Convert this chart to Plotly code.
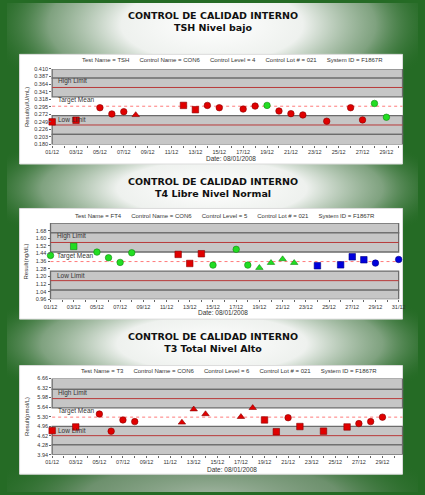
import base64
import plotly.graph_objects as go

W, H = 425, 495

# x axis: days of December, label every second day
date_ticks = list(range(1, 32))
date_labels = ["01/12", "03/12", "05/12", "07/12", "09/12", "11/12", "13/12", "15/12",
               "17/12", "19/12", "21/12", "23/12", "25/12", "27/12", "29/12", "31/12"]

# TSH nivel bajo
tsh_days = [1, 3, 5, 6, 7, 8, 12, 13, 14, 15, 17, 18, 19, 20, 21, 22, 24, 26, 27, 28, 29]
tsh_values = [0.249, 0.254, 0.292, 0.273, 0.280, 0.270, 0.299, 0.286, 0.299, 0.292, 0.288,
              0.297, 0.299, 0.282, 0.274, 0.270, 0.251, 0.292, 0.255, 0.305, 0.263]
tsh_runs = ["B", "B", "A", "A", "A", "C", "B", "B", "A", "A", "A",
            "A", "D", "A", "A", "A", "A", "A", "A", "D", "D"]
tsh_mean, tsh_sd = 0.2965, 0.0285
tsh_yticks = [0.180, 0.203, 0.226, 0.249, 0.272, 0.295, 0.318, 0.341, 0.364, 0.387, 0.410]

# T4 libre nivel normal
ft4_days = [1, 3, 5, 6, 7, 8, 12, 13, 14, 15, 17, 18, 19, 20, 21, 22, 24, 26, 27, 28, 29, 31]
ft4_values = [1.420, 1.515, 1.455, 1.396, 1.347, 1.448, 1.431, 1.336, 1.438, 1.319, 1.484,
              1.319, 1.291, 1.343, 1.382, 1.343, 1.312, 1.322, 1.406, 1.375, 1.340, 1.378]
ft4_runs = ["D", "E", "D", "D", "D", "D", "B", "B", "B", "D", "D",
            "D", "F", "F", "F", "F", "G", "G", "G", "G", "H", "H"]
ft4_mean, ft4_sd = 1.356, 0.100
ft4_yticks = [0.96, 1.04, 1.12, 1.20, 1.28, 1.36, 1.44, 1.52, 1.60, 1.68]

# T3 total nivel alto
t3_days = [1, 3, 5, 6, 7, 8, 12, 13, 14, 17, 18, 19, 20, 21, 22, 24, 26, 27, 28, 29]
t3_values = [4.80, 4.93, 5.39, 4.78, 5.18, 5.12, 5.09, 5.56, 5.39, 5.29, 5.61,
             5.18, 4.76, 5.26, 4.945, 4.78, 4.93, 5.05, 5.12, 5.28]
t3_runs = ["B", "B", "A", "A", "A", "A", "C", "C", "C", "C", "C",
           "B", "B", "A", "B", "B", "B", "A", "A", "A"]
t3_mean, t3_sd = 5.28, 0.33
t3_yticks = [3.94, 4.28, 4.62, 4.96, 5.30, 5.64, 5.98, 6.32, 6.66]

RUN_STYLE = {
    "A": ("circle", "#e00000", "#8a0000"),
    "B": ("square", "#e00000", "#8a0000"),
    "C": ("triangle-up", "#e00000", "#8a0000"),
    "D": ("circle", "#22dd22", "#118811"),
    "E": ("square", "#22dd22", "#118811"),
    "F": ("triangle-up", "#22dd22", "#118811"),
    "G": ("square", "#0000dd", "#000080"),
    "H": ("circle", "#0000dd", "#000080"),
}

charts = [
    dict(days=tsh_days, values=tsh_values, runs=tsh_runs, mean=tsh_mean, sd=tsh_sd,
         yticks=tsh_yticks, fmt="{:.3f}", xmax=30.35,
         title="CONTROL DE CALIDAD INTERNO<br>TSH Nivel bajo", ytitle="Result(uIU/mL)",
         header="Test Name = TSH|Control Name = CON6|Control Level = 4|Control Lot # = 021|System ID = F1867R",
         date="Date: 08/01/2008",
         panel=(13, 52, 409, 163), plot=(46.7, 66.7, 409, 143.3), title_y=18.5, head=(233, 57.5), date_xy=(232, 157.5)),
    dict(days=ft4_days, values=ft4_values, runs=ft4_runs, mean=ft4_mean, sd=ft4_sd,
         yticks=ft4_yticks, fmt="{:.2f}", xmax=31, ytop=1.76,
         title="CONTROL DE CALIDAD INTERNO<br>T4 Libre Nivel Normal", ytitle="Result(ng/dL)",
         header="Test Name = FT4|Control Name = CON6|Control Level = 5|Control Lot # = 021|System ID = F1867R",
         date="Date: 08/01/2008",
         panel=(13, 208, 409, 320), plot=(45, 222.7, 405, 300), title_y=186.5, head=(225, 215.7), date_xy=(223, 313.5)),
    dict(days=t3_days, values=t3_values, runs=t3_runs, mean=t3_mean, sd=t3_sd,
         yticks=t3_yticks, fmt="{:.2f}", xmax=30.7,
         title="CONTROL DE CALIDAD INTERNO<br>T3 Total Nivel Alto", ytitle="Result(pmol/L)",
         header="Test Name = T3|Control Name = CON6|Control Level = 6|Control Lot # = 021|System ID = F1867R",
         date="Date: 08/01/2008",
         panel=(13, 367, 409, 477), plot=(46.7, 380, 409, 457.3), title_y=343.5, head=(230, 372.7), date_xy=(233, 472)),
]

SMALL = "Liberation Sans, Arial, sans-serif"
GAP = "\u00a0" * 6

bg_svg = f'''<svg xmlns="http://www.w3.org/2000/svg" width="{W}" height="{H}" viewBox="0 0 {W} {H}">
<defs>
<radialGradient id="glow">
<stop offset="0" stop-color="#ffffff"/>
<stop offset="0.4" stop-color="#eef1ee"/>
<stop offset="0.72" stop-color="#9db49d" stop-opacity="0.75"/>
<stop offset="1" stop-color="#2c6c2c" stop-opacity="0"/>
</radialGradient>
<radialGradient id="dim">
<stop offset="0" stop-color="#a3b6a3"/>
<stop offset="0.55" stop-color="#7f9a7f" stop-opacity="0.8"/>
<stop offset="1" stop-color="#2c6c2c" stop-opacity="0"/>
</radialGradient>
</defs>
<rect width="{W}" height="{H}" fill="#256b25"/>
<ellipse cx="212" cy="22" rx="235" ry="95" fill="url(#glow)"/>
<ellipse cx="212" cy="188" rx="245" ry="70" fill="url(#glow)"/>
<ellipse cx="212" cy="345" rx="245" ry="70" fill="url(#glow)"/>
<ellipse cx="212" cy="500" rx="240" ry="60" fill="url(#dim)"/>
</svg>'''
bg_src = "data:image/svg+xml;base64," + base64.b64encode(bg_svg.encode()).decode()


def note(x, y, text, size, family=SMALL, color="#333333", angle=0):
    # text centred on an absolute pixel position of the page
    return dict(xref="paper", yref="paper", x=x / W, y=1 - y / H, text=text, showarrow=False,
                xanchor="center", yanchor="middle", textangle=angle,
                font=dict(family=family, size=size, color=color))


fig = go.Figure()
shapes, annotations = [], []
layout = {}

for i, c in enumerate(charts, start=1):
    xa, ya = ("x", "y") if i == 1 else (f"x{i}", f"y{i}")
    xkey, ykey = ("xaxis", "yaxis") if i == 1 else (f"xaxis{i}", f"yaxis{i}")
    x0, y0, x1, y1 = c["plot"]
    ybot = c["yticks"][0]
    ytop = c.get("ytop", c["yticks"][-1])
    m, s = c["mean"], c["sd"]

    # white panel
    px0, py0, px1, py1 = c["panel"]
    shapes.append(dict(type="rect", xref="paper", yref="paper", layer="below",
                       x0=px0 / W, x1=px1 / W, y0=1 - py1 / H, y1=1 - py0 / H,
                       fillcolor="white", line=dict(color="#dcdcdc", width=1)))

    # gray zones outside +-1 SD, boxed at +-3 SD
    for lo, hi in [(m + 3 * s, ytop), (m + s, m + 3 * s), (m - 3 * s, m - s), (ybot, m - 3 * s)]:
        shapes.append(dict(type="rect", xref=f"{xa} domain", yref=ya, layer="below",
                           x0=0, x1=1, y0=lo, y1=hi, fillcolor="#c6c6c6",
                           line=dict(color="#6c6c6c", width=1.3)))
    for val, col, dash in [(m + 2 * s, "#b83a3a", "solid"), (m - 2 * s, "#b83a3a", "solid"),
                           (m, "#ff7a7a", "dot")]:
        shapes.append(dict(type="line", xref=f"{xa} domain", yref=ya, layer="below",
                           x0=0, x1=1, y0=val, y1=val, line=dict(color=col, width=1, dash=dash)))
    for val, label in [(m + 2 * s, "High Limit"), (m, "Target Mean"), (m - 2 * s, "Low Limit")]:
        annotations.append(dict(xref=f"{xa} domain", yref=ya, x=0.012, y=val, yshift=0,
                                xanchor="left", yanchor="bottom", showarrow=False, text=label,
                                font=dict(family=SMALL, size=6.5, color="#333333")))

    for code in dict.fromkeys(c["runs"]):
        idx = [k for k, r in enumerate(c["runs"]) if r == code]
        sym, fill, edge = RUN_STYLE[code]
        fig.add_trace(go.Scatter(
            x=[c["days"][k] for k in idx], y=[c["values"][k] for k in idx],
            mode="markers", xaxis=xa, yaxis=ya, showlegend=False, cliponaxis=False,
            marker=dict(symbol=sym, size=6.5, color=fill, line=dict(color=edge, width=0.6))))

    layout[xkey] = dict(
        domain=[x0 / W, x1 / W], anchor=ya, range=[1, c["xmax"]],
        tickvals=date_ticks,
        ticktext=[date_labels[(d - 1) // 2] if d % 2 == 1 else "" for d in date_ticks],
        ticks="outside", ticklen=2, tickcolor="#666666", showgrid=False, zeroline=False,
        showline=False, tickfont=dict(family=SMALL, size=5.5, color="#333333"))
    layout[ykey] = dict(
        domain=[1 - y1 / H, 1 - y0 / H], anchor=xa, range=[ybot, ytop],
        tickvals=c["yticks"], ticktext=[c["fmt"].format(v) for v in c["yticks"]],
        ticks="outside", ticklen=2, tickcolor="#666666", showgrid=False, zeroline=False,
        showline=False, tickfont=dict(family=SMALL, size=5.5, color="#333333"))

    annotations.append(note(212.5, c["title_y"], f"<b>{c['title']}</b>", 9.5,
                            family="DejaVu Sans, Verdana, sans-serif", color="#111111"))
    annotations.append(note(*c["head"], c["header"].replace("|", GAP), 6))
    annotations.append(note(*c["date_xy"], c["date"], 6.5))
    annotations.append(note(20, (y0 + y1) / 2, c["ytitle"], 6, angle=-90))

fig.update_layout(
    width=W, height=H, margin=dict(l=0, r=0, t=0, b=0),
    paper_bgcolor="#256b25", plot_bgcolor="rgba(0,0,0,0)",
    shapes=shapes, annotations=annotations,
    images=[dict(source=bg_src, xref="paper", yref="paper", x=0, y=1, sizex=1, sizey=1,
                 xanchor="left", yanchor="top", sizing="stretch", layer="below")],
    **layout)

fig.write_html("out.html", config={"displayModeBar": False},
               post_script="document.body.style.margin='0';document.body.style.overflow='hidden';")
